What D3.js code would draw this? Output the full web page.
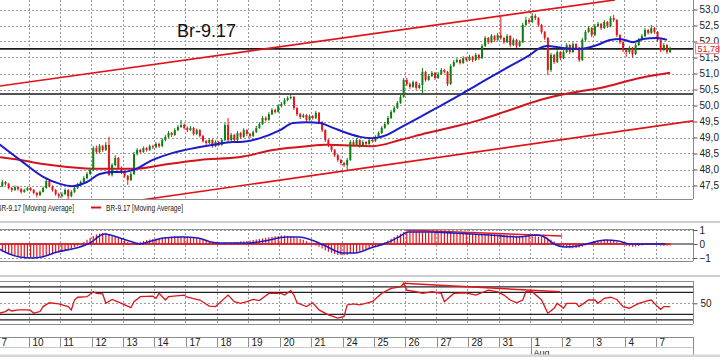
<!DOCTYPE html>
<html><head><meta charset="utf-8">
<script src="https://cdn.jsdelivr.net/npm/d3@7"></script>
<style>html,body{margin:0;padding:0;background:#fff;overflow:hidden}svg{display:block;font-family:"Liberation Sans",Arial,sans-serif}</style>
</head><body><svg id="c" width="720" height="357"></svg>
<script>
const title = "Br-9.17";
const dayLabels = ["7","10","11","12","13","14","17","18","19","20","21","24","25","26","27","28","31","1","2","3","4","7"];
const monthLabel = "Aug";
const monthDay = 17;
const barsPerDay = 10;
const priceTicks = [47.5,48.0,48.5,49.0,49.5,50.0,50.5,51.0,51.5,52.0,52.5,53.0];
const opens = [47.42,47.48,47.61,47.55,47.42,47.36,47.45,47.39,47.30,47.36,
47.42,47.36,47.27,47.20,47.30,47.42,47.64,47.48,47.36,47.23,
47.17,47.23,47.36,47.17,47.30,47.42,47.52,47.61,47.73,47.86,
47.98,48.67,48.55,48.73,48.61,48.77,47.83,48.14,48.36,48.05,
47.92,47.80,47.67,47.86,48.48,48.61,48.55,48.67,48.61,48.73,
48.70,48.80,48.73,48.92,49.02,49.14,49.08,49.23,49.33,49.39,
49.30,49.23,49.30,49.11,49.23,49.05,48.89,48.83,48.92,48.73,
48.86,48.77,48.92,49.39,48.92,49.08,48.92,49.14,49.02,49.23,
49.11,49.05,49.17,49.30,49.42,49.61,49.55,49.73,49.86,49.80,
49.98,50.05,50.17,50.23,50.27,49.92,49.73,49.64,49.70,49.55,
49.67,49.61,49.77,49.48,49.23,48.92,48.77,48.61,48.45,48.30,
48.20,48.14,48.30,48.86,48.77,48.92,48.73,48.86,48.80,48.92,
48.89,49.02,49.14,49.30,49.42,49.61,49.80,49.92,50.08,50.27,
50.80,50.67,50.58,50.73,50.55,50.64,51.05,50.80,50.92,51.02,
50.86,50.98,51.11,51.05,50.67,51.23,51.36,51.42,51.33,51.48,
51.42,51.52,51.42,51.58,51.48,51.86,52.11,51.98,52.17,52.05,
52.20,52.11,51.98,52.17,51.89,52.05,51.86,51.98,52.52,52.67,
52.61,52.80,52.73,52.52,52.30,52.11,51.11,51.58,51.36,51.67,
51.48,51.67,51.89,51.67,51.92,51.80,51.42,52.05,52.30,52.42,
52.20,52.48,52.55,52.42,52.61,52.48,52.73,52.67,52.20,51.98,
51.73,51.67,51.80,51.61,51.89,52.05,52.17,52.36,52.27,52.42,
52.30,52.05,51.73,51.89,51.67];
const highs = [47.55,47.67,47.64,47.58,47.45,47.50,47.48,47.42,47.40,47.46,
47.45,47.39,47.30,47.34,47.47,47.70,47.67,47.50,47.39,47.27,
47.29,47.41,47.39,47.35,47.47,47.58,47.66,47.79,47.92,48.05,
48.73,48.75,48.80,48.77,48.86,49.02,48.20,48.45,48.39,48.09,
47.95,47.83,47.92,48.55,48.67,48.65,48.72,48.70,48.78,48.77,
48.86,48.84,48.98,49.08,49.20,49.17,49.29,49.39,49.55,49.44,
49.35,49.36,49.33,49.28,49.26,49.08,48.93,48.97,48.95,48.91,
48.89,48.98,49.45,49.61,49.14,49.11,49.20,49.17,49.29,49.26,
49.14,49.22,49.36,49.48,49.67,49.66,49.79,49.92,49.90,50.04,
50.11,50.23,50.29,50.36,50.30,49.95,49.77,49.75,49.73,49.72,
49.70,49.83,49.80,49.52,49.26,48.95,48.80,48.64,48.48,48.33,
48.24,48.36,48.92,48.92,48.98,48.95,48.91,48.89,48.97,48.95,
49.07,49.19,49.36,49.48,49.67,49.86,49.98,50.14,50.33,50.86,
50.86,50.72,50.78,50.76,50.70,51.17,51.08,50.98,51.08,51.05,
51.04,51.17,51.14,51.08,51.29,51.42,51.48,51.45,51.54,51.52,
51.58,51.55,51.64,51.61,51.92,52.17,52.14,52.23,52.20,52.26,
52.77,52.14,52.23,52.20,52.11,52.08,52.04,52.58,52.77,52.73,
52.89,52.86,52.76,52.55,52.33,52.14,51.64,51.61,51.73,51.70,
51.73,51.95,51.92,51.98,51.95,51.83,52.11,52.36,52.48,52.45,
52.55,52.61,52.58,52.67,52.64,52.79,52.83,52.70,52.23,52.01,
51.77,51.86,51.83,51.95,52.11,52.23,52.42,52.39,52.52,52.45,
52.33,52.08,51.95,51.92,51.84];
const lows = [47.38,47.45,47.50,47.38,47.30,47.33,47.34,47.25,47.27,47.33,
47.32,47.22,47.13,47.17,47.28,47.40,47.44,47.31,47.18,47.10,
47.12,47.20,47.08,47.13,47.27,47.39,47.48,47.58,47.69,47.82,
47.95,48.48,48.50,48.55,48.58,47.80,47.78,48.10,48.00,47.86,
47.74,47.52,47.64,47.83,48.44,48.50,48.52,48.56,48.58,48.64,
48.66,48.68,48.70,48.88,48.98,49.02,49.05,49.20,49.30,49.25,
49.17,49.20,49.06,49.08,49.00,48.84,48.77,48.80,48.68,48.70,
48.72,48.74,48.89,48.86,48.88,48.86,48.89,48.97,48.99,49.05,
48.98,49.02,49.14,49.27,49.39,49.50,49.52,49.70,49.75,49.77,
49.94,50.02,50.13,50.19,49.86,49.67,49.58,49.61,49.50,49.52,
49.56,49.58,49.42,49.17,48.86,48.70,48.55,48.39,48.24,48.14,
48.08,47.98,48.27,48.72,48.74,48.68,48.70,48.75,48.77,48.84,
48.86,48.98,49.11,49.27,49.39,49.58,49.77,49.89,50.05,50.24,
50.61,50.52,50.55,50.49,50.52,50.33,50.74,50.77,50.89,50.80,
50.83,50.95,51.00,50.61,50.64,51.20,51.33,51.28,51.30,51.37,
51.39,51.36,51.39,51.42,51.45,51.83,51.92,51.95,51.99,52.02,
52.05,51.92,51.95,51.83,51.86,51.80,51.83,51.95,52.48,52.55,
52.58,52.67,52.46,52.24,52.05,50.95,51.05,51.30,51.33,51.42,
51.45,51.64,51.61,51.64,51.74,51.36,51.39,52.02,52.27,52.14,
52.17,52.45,52.36,52.39,52.42,52.45,52.61,52.14,51.92,51.67,
51.52,51.61,51.50,51.58,51.86,52.02,52.14,52.22,52.24,52.24,
51.99,51.67,51.70,51.61,51.64];
const closes = [47.48,47.61,47.55,47.42,47.36,47.45,47.39,47.30,47.36,47.42,
47.36,47.27,47.20,47.30,47.42,47.64,47.48,47.36,47.23,47.17,
47.23,47.36,47.17,47.30,47.42,47.52,47.61,47.73,47.86,47.98,
48.67,48.55,48.73,48.61,48.77,47.83,48.14,48.36,48.05,47.92,
47.80,47.67,47.86,48.48,48.61,48.55,48.67,48.61,48.73,48.70,
48.80,48.73,48.92,49.02,49.14,49.08,49.23,49.33,49.39,49.30,
49.23,49.30,49.11,49.23,49.05,48.89,48.83,48.92,48.73,48.86,
48.77,48.92,49.39,48.92,49.08,48.92,49.14,49.02,49.23,49.11,
49.05,49.17,49.30,49.42,49.61,49.55,49.73,49.86,49.80,49.98,
50.05,50.17,50.23,50.27,49.92,49.73,49.64,49.70,49.55,49.67,
49.61,49.77,49.48,49.23,48.92,48.77,48.61,48.45,48.30,48.20,
48.14,48.30,48.86,48.77,48.92,48.73,48.86,48.80,48.92,48.89,
49.02,49.14,49.30,49.42,49.61,49.80,49.92,50.08,50.27,50.80,
50.67,50.58,50.73,50.55,50.64,51.05,50.80,50.92,51.02,50.86,
50.98,51.11,51.05,50.67,51.23,51.36,51.42,51.33,51.48,51.42,
51.52,51.42,51.58,51.48,51.86,52.11,51.98,52.17,52.05,52.20,
52.11,51.98,52.17,51.89,52.05,51.86,51.98,52.52,52.67,52.61,
52.80,52.73,52.52,52.30,52.11,51.11,51.58,51.36,51.67,51.48,
51.67,51.89,51.67,51.92,51.80,51.42,52.05,52.30,52.42,52.20,
52.48,52.55,52.42,52.61,52.48,52.73,52.67,52.20,51.98,51.73,
51.67,51.80,51.61,51.89,52.05,52.17,52.36,52.27,52.42,52.30,
52.05,51.73,51.89,51.67,51.78];
const lastPrice = 51.78;
const maFastBar = [0,7.1,14.5,19.9,23.7,28.5,32.6,36.8,39,43.2,49.5,55.9,64.5,68.7,75.1,77.3,83.7,90.1,94.2,98.7,102.8,107,111.4,115.6,119.7,124.2,128.3,134.7,141.1,147.5,153.9,163.4,169.8,173,175.2,180.3,185.8,191.2,195.3,198.5,202.7,205.8,210.3,213.5];
const maFastVal = [48.83,48.30,47.77,47.55,47.48,47.61,47.86,47.92,47.92,47.98,48.30,48.52,48.70,48.77,48.86,48.86,48.98,49.23,49.45,49.48,49.45,49.30,49.14,49.02,48.98,49.08,49.30,49.64,49.98,50.33,50.70,51.23,51.58,51.80,51.86,51.80,51.77,51.89,52.05,52.08,51.98,52.08,52.11,52.05];
const maSlowBar = [0,7.1,14.5,22.2,32.6,43.2,54.5,64.5,77.3,87.8,98.7,105,119.7,128.3,136.9,145.2,153.9,163.4,173,182.6,192.2,204.9,214.5];
const maSlowVal = [48.39,48.30,48.17,48.08,48.02,48.02,48.17,48.30,48.39,48.61,48.73,48.77,48.73,48.92,49.14,49.33,49.55,49.86,50.17,50.39,50.55,50.86,51.02];
const trendBars = [[0.75,196.9],[46,221.8]];
const trendPrices = [[50.61,53.30],[47.05,49.52]];
const levelPrices = [51.77,50.36];
const macdHist = [-0.5,-0.55,-0.62,-0.7,-0.76,-0.82,-0.87,-0.9,-0.93,-0.95,
-0.96,-0.95,-0.93,-0.9,-0.86,-0.8,-0.76,-0.72,-0.66,-0.6,
-0.55,-0.48,-0.4,-0.32,-0.22,-0.12,0.0,0.15,0.3,0.45,
0.58,0.68,0.74,0.78,0.8,0.72,0.62,0.55,0.45,0.36,
0.25,0.15,0.08,0.06,0.1,0.16,0.22,0.28,0.32,0.36,
0.4,0.42,0.45,0.48,0.5,0.52,0.54,0.55,0.55,0.54,
0.52,0.5,0.46,0.42,0.36,0.3,0.24,0.18,0.12,0.08,
0.05,0.05,0.1,0.08,0.1,0.12,0.15,0.18,0.2,0.22,
0.25,0.28,0.32,0.36,0.4,0.44,0.48,0.52,0.55,0.58,
0.6,0.6,0.58,0.55,0.5,0.44,0.38,0.3,0.2,0.1,
0.0,-0.1,-0.2,-0.32,-0.45,-0.55,-0.64,-0.72,-0.78,-0.8,
-0.8,-0.78,-0.72,-0.66,-0.6,-0.52,-0.46,-0.4,-0.34,-0.28,
-0.2,-0.1,0.0,0.12,0.25,0.38,0.5,0.62,0.74,0.85,
0.9,0.92,0.9,0.88,0.88,0.9,0.88,0.86,0.85,0.84,
0.83,0.84,0.82,0.78,0.8,0.8,0.78,0.76,0.76,0.75,
0.74,0.72,0.72,0.7,0.72,0.74,0.72,0.7,0.7,0.68,
0.68,0.66,0.64,0.62,0.6,0.58,0.56,0.58,0.6,0.6,
0.56,0.55,0.52,0.5,0.46,0.38,0.3,0.2,0.08,-0.05,
-0.15,-0.25,-0.3,-0.3,-0.28,-0.25,-0.2,-0.1,0.0,0.1,
0.18,0.24,0.28,0.3,0.3,0.28,0.24,0.15,0.05,-0.05,
-0.12,-0.18,-0.2,-0.18,-0.14,-0.1,-0.06,-0.04,-0.02,-0.02,
-0.05,-0.1,-0.12,-0.12,-0.1];
const signalBar = [0,3,7,11,14,19,25,28,30,32,34,36,39,43,45,48,53,59,64,68,71,80,85,92,96,100,104,110,114,119,124,128,131,138,145,151,157,166,172,175,177,181,185,189,194,198,202,207,213];
const signalVal = [-0.29,-0.64,-0.93,-1.0,-0.93,-0.57,-0.29,-0.07,0.14,0.5,0.71,0.64,0.43,0.14,0.0,0.14,0.43,0.5,0.43,0.14,0.07,0.07,0.21,0.5,0.5,0.29,-0.07,-0.64,-0.64,-0.29,0.07,0.5,0.86,0.86,0.79,0.71,0.64,0.5,0.64,0.43,0.07,-0.21,-0.14,0.07,0.29,0.21,0.0,0.0,0.0];
const macdTicks = [1,0,-1];
const macdTrendBar = [130,180];
const macdTrendVal = [1.0,0.57];
const rsiBar = [0,2,3,4,6,9,10,11,13,14,16,19,22,23,24,25,28,30,31,33,34,36,39,42,43,45,49,50,51,53,54,59,60,64,67,69,73,75,77,79,81,83,86,90,91,93,94,95,98,100,102,105,108,110,111,113,115,119,122,125,128,129,130,133,135,138,141,142,145,149,152,156,159,161,163,165,167,168,170,173,174,175,177,178,180,181,184,185,188,190,191,193,195,197,199,201,204,207,208,210,211,212,214];
const rsiVal = [32,35,39,36,38,38,37,32,35,44,51,49,44,38,56,61,62,71,68,67,50,57,50,42,53,62,63,59,68,56,62,65,61,56,45,44,65,53,50,53,57,55,68,68,65,73,65,51,44,51,38,29,23,26,47,49,47,53,68,77,80,86,74,71,68,71,68,53,68,69,65,74,71,65,56,51,56,71,71,56,44,32,41,50,41,50,50,44,56,56,50,59,61,57,44,41,50,55,56,44,39,44,44];
const rsiLevels = [80,70,30,20];
const rsiTick = 50;
const rsiTrendBar = [129.3,179.4];
const rsiTrendVal = [86.4,71];
const legendLabels = ["BR-9.17 [Moving Average]","BR-9.17 [Moving Average]"];

const svg = d3.select("#c");
svg.append("rect").attr("width",720).attr("height",357).attr("fill","#fff");
const R = 693;
const nDays = dayLabels.length;
const xs = d3.scaleLinear().domain([0, nDays*barsPerDay]).range([-2.35, -2.35 + 31.35*nDays]);
const bx = i => xs(i + 0.5);
const fmtComma = f => v => d3.format(f)(v).replace(".", ",");
const gridCol = "#9a9a9a", borderCol = "#8c8c8c", textCol = "#222";

const P = {main:[0,199], macd:[229,262], rsi:[281,324]};
const yM = d3.scaleLinear().domain([47.5,53]).range([185.5,9.5]);
const yD = d3.scaleLinear().domain([-1,1]).range([258,230]);
const yR = d3.scaleLinear().domain([50,70]).range([303.3,292.3]);

const defs = svg.append("defs");
Object.entries(P).forEach(([k,[t,b]])=>{
  defs.append("clipPath").attr("id","clip-"+k).append("rect").attr("x",0).attr("y",t).attr("width",R).attr("height",b-t);
});

function vgrid(g,t,b){
  for(let d=1; d<nDays; d++){
    g.append("line").attr("x1",xs(d*barsPerDay)).attr("x2",xs(d*barsPerDay)).attr("y1",t).attr("y2",b)
      .attr("stroke",gridCol).attr("stroke-width",1).attr("stroke-dasharray","2,2").attr("shape-rendering","crispEdges");
  }
}
function hgrid(g,y){
  g.append("line").attr("x1",0).attr("x2",R).attr("y1",y).attr("y2",y)
    .attr("stroke",gridCol).attr("stroke-dasharray","2,2").attr("shape-rendering","crispEdges");
}

// ---------- main panel ----------
const gm = svg.append("g").attr("clip-path","url(#clip-main)");
vgrid(gm,0,199);
priceTicks.forEach(p=>hgrid(gm,Math.round(yM(p))+0.5));
levelPrices.forEach(p=>{
  gm.append("line").attr("x1",0).attr("x2",R).attr("y1",yM(p)).attr("y2",yM(p)).attr("stroke","#1a1a1a").attr("stroke-width",1.6);
});
trendBars.forEach((tb,k)=>{
  gm.append("line").attr("x1",xs(tb[0])).attr("x2",xs(tb[1])).attr("y1",yM(trendPrices[k][0])).attr("y2",yM(trendPrices[k][1]))
    .attr("stroke","#e0141c").attr("stroke-width",1.6);
});
const lineM = d3.line().curve(d3.curveMonotoneX);
gm.append("path").attr("d",lineM(maSlowBar.map((b,i)=>[xs(b),yM(maSlowVal[i])]))).attr("fill","none").attr("stroke","#d4141c").attr("stroke-width",2);
const up = "#0f800f", dn = "#e8141c";
closes.forEach((c,i)=>{
  const o=opens[i], col = c>=o?up:dn, x=bx(i);
  gm.append("line").attr("x1",x).attr("x2",x).attr("y1",yM(highs[i])).attr("y2",yM(lows[i])).attr("stroke",col).attr("stroke-width",1);
  const yt=yM(Math.max(o,c)), yb=yM(Math.min(o,c));
  gm.append("rect").attr("x",x-1).attr("y",yt).attr("width",2).attr("height",Math.max(1,yb-yt)).attr("fill",col);
});
gm.append("path").attr("d",lineM(maFastBar.map((b,i)=>[xs(b),yM(maFastVal[i])]))).attr("fill","none").attr("stroke","#1c1cc8").attr("stroke-width",2);

svg.append("text").attr("x",177).attr("y",37).attr("font-size",18).attr("fill","#111").text(title);

function border(t,b){
  svg.append("line").attr("x1",R+0.5).attr("x2",R+0.5).attr("y1",t).attr("y2",b).attr("stroke",borderCol);
  svg.append("line").attr("x1",0).attr("x2",R).attr("y1",b+0.5).attr("y2",b+0.5).attr("stroke",borderCol);
}
border(-1,199);
const axM = d3.axisRight(yM).tickValues(priceTicks).tickSize(4).tickPadding(2).tickFormat(fmtComma(".1f"));
const gaM = svg.append("g").attr("transform",`translate(${R+0.5},0)`).call(axM);
function styleAxis(g){
  g.select(".domain").remove();
  g.selectAll("line").attr("stroke","#555");
  g.selectAll("text").attr("font-size",10).attr("fill",textCol).attr("font-family","Liberation Sans, Arial, sans-serif");
}
styleAxis(gaM);
// last price box
svg.append("rect").attr("x",R+2.5).attr("y",yM(lastPrice)-5).attr("width",23).attr("height",10).attr("fill","#fff").attr("stroke","#ee8a8a");
svg.append("text").attr("x",R+4.5).attr("y",yM(lastPrice)+3).attr("font-size",9).attr("fill","#e0141c").text(fmtComma(".2f")(lastPrice));

// legend
svg.append("text").attr("x",-3).attr("y",211).attr("font-size",9.5).attr("fill",textCol).attr("textLength",77).attr("lengthAdjust","spacingAndGlyphs").text(legendLabels[0]);
svg.append("line").attr("x1",91).attr("x2",101).attr("y1",207.5).attr("y2",207.5).attr("stroke","#d4141c").attr("stroke-width",2);
svg.append("text").attr("x",106).attr("y",211).attr("font-size",9.5).attr("fill",textCol).attr("textLength",77).attr("lengthAdjust","spacingAndGlyphs").text(legendLabels[1]);

svg.append("rect").attr("x",0).attr("y",221).attr("width",720).attr("height",2).attr("fill","#cfcfcf");
svg.append("rect").attr("x",0).attr("y",275).attr("width",720).attr("height",2).attr("fill","#cfcfcf");

// ---------- MACD ----------
const gd = svg.append("g").attr("clip-path","url(#clip-macd)");
svg.append("line").attr("x1",0).attr("x2",R).attr("y1",229.5).attr("y2",229.5).attr("stroke",borderCol);
vgrid(gd,229,262);
[1,-1].forEach(v=>hgrid(gd,Math.round(yD(v))+0.5));
gd.append("line").attr("x1",0).attr("x2",R).attr("y1",yD(0)).attr("y2",yD(0)).attr("stroke","#111").attr("stroke-width",1);
macdHist.forEach((v,i)=>{
  gd.append("line").attr("x1",bx(i)).attr("x2",bx(i)).attr("y1",yD(0)).attr("y2",yD(v)).attr("stroke","#e8141c").attr("stroke-width",1.2);
});
gd.append("line").attr("x1",bx(0)).attr("x2",bx(macdHist.length-1)).attr("y1",yD(0)).attr("y2",yD(0)).attr("stroke","#e8141c").attr("stroke-width",1.5);
gd.append("line").attr("x1",xs(macdTrendBar[0])).attr("x2",xs(macdTrendBar[1])).attr("y1",yD(macdTrendVal[0])).attr("y2",yD(macdTrendVal[1])).attr("stroke","#e8141c").attr("stroke-width",1.4);
gd.append("path").attr("d",lineM(signalBar.map((b,i)=>[xs(b),yD(signalVal[i])]))).attr("fill","none").attr("stroke","#1c1cc8").attr("stroke-width",1.6);
border(229,261);
const gaD = svg.append("g").attr("transform",`translate(${R+0.5},0)`).call(d3.axisRight(yD).tickValues(macdTicks).tickSize(4).tickPadding(2).tickFormat(d3.format("d")));
styleAxis(gaD);

// ---------- RSI ----------
const gr = svg.append("g").attr("clip-path","url(#clip-rsi)");
svg.append("line").attr("x1",0).attr("x2",R).attr("y1",281.5).attr("y2",281.5).attr("stroke",borderCol);
vgrid(gr,281,324);
hgrid(gr,Math.round(yR(rsiTick))+0.5);
rsiLevels.forEach(v=>{
  gr.append("line").attr("x1",0).attr("x2",R).attr("y1",yR(v)).attr("y2",yR(v)).attr("stroke","#222").attr("stroke-width",1.2);
});
gr.append("line").attr("x1",xs(rsiTrendBar[0])).attr("x2",xs(rsiTrendBar[1])).attr("y1",yR(rsiTrendVal[0])).attr("y2",yR(rsiTrendVal[1])).attr("stroke","#e8141c").attr("stroke-width",1.4);
gr.append("path").attr("d",d3.line()(rsiBar.map((b,i)=>[bx(b),yR(rsiVal[i])]))).attr("fill","none").attr("stroke","#e0141c").attr("stroke-width",1.3);
border(281,324);
const gaR = svg.append("g").attr("transform",`translate(${R+0.5},0)`).call(d3.axisRight(yR).tickValues([rsiTick]).tickSize(4).tickPadding(3).tickFormat(d3.format("d")));
styleAxis(gaR);

// ---------- time axis ----------
svg.append("line").attr("x1",0).attr("x2",R+1).attr("y1",337.5).attr("y2",337.5).attr("stroke",borderCol);
svg.append("line").attr("x1",0).attr("x2",R+1).attr("y1",347.5).attr("y2",347.5).attr("stroke","#c8c8c8");
svg.append("line").attr("x1",R+0.5).attr("x2",R+0.5).attr("y1",337).attr("y2",357).attr("stroke",borderCol);
dayLabels.forEach((lab,d)=>{
  const x = Math.round(xs(d*barsPerDay))+0.5;
  svg.append("line").attr("x1",x).attr("x2",x).attr("y1",337).attr("y2",347).attr("stroke",borderCol);
  svg.append("text").attr("x",x+3).attr("y",346).attr("font-size",10).attr("fill",textCol).text(lab);
});
const xm = Math.round(xs(monthDay*barsPerDay))+0.5;
svg.append("line").attr("x1",xm).attr("x2",xm).attr("y1",347).attr("y2",357).attr("stroke",borderCol);
svg.append("text").attr("x",xm+2).attr("y",355.5).attr("font-size",9).attr("fill",textCol).text(monthLabel);
svg.append("rect").attr("x",0).attr("y",354.5).attr("width",720).attr("height",2.5).attr("fill","#d6d6d6");
</script></body></html>
